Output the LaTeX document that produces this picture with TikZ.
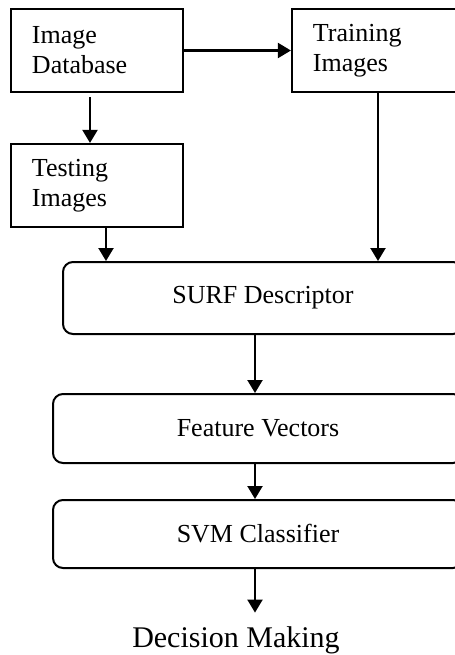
\documentclass[tikz,border=0pt]{standalone}
\usepackage{fontspec}
\setmainfont{Liberation Serif}
\usetikzlibrary{arrows.meta}
\begin{document}
\begin{tikzpicture}[x=0.5pt,y=-0.5pt]
        \tikzstyle{box}=[draw,line width=1.1pt,minimum height=41.5pt,text width=65pt,inner xsep=10.5pt,inner ysep=0pt,align=left,font=\fontsize{13}{15}\selectfont]
        \tikzstyle{stage}=[draw,line width=1pt,rounded corners=5pt,inner sep=0pt,font=\fontsize{13}{15}\selectfont]
        \tikzstyle{arr}=[line width=1.1pt,-{Triangle[length=6.5pt,width=7.5pt]}]

        \useasboundingbox (0,0) rectangle (455,655);
        \clip (0,0) rectangle (455,655);

        \draw (97,50.5) node[box] (db) {Image\\Database};
        \draw (378,50.5) node[box] (train) {Training\\Images};
        \draw (97,185.5) node[box] (test) {Testing\\Images};
        \draw (263,298) node[stage,minimum width=200pt,minimum height=36pt] (surf) {SURF Descriptor};
        \draw (258,428.5) node[stage,minimum width=205pt,minimum height=34.5pt] (feat) {Feature Vectors};
        \draw (258,534) node[stage,minimum width=205pt,minimum height=34pt] (svm) {SVM Classifier};
        \draw (236,647) node[anchor=base,inner sep=0pt,outer sep=6.8pt,font=\fontsize{15}{17}\selectfont] (dec) {Decision Making};

        \draw[arr] (db.east) -- (train.west);
        \draw[arr,shorten <=2pt] ([xshift=-3.5pt]db.south) -- ([xshift=-3.5pt]test.north);
        \draw[arr] ([xshift=4.5pt]test.south) -- ([xshift=4.5pt]test.south |- surf.north);
        \draw[arr] (train.south) -- (train.south |- surf.north);
        \draw[arr] ([xshift=-4pt]surf.south) -- ([xshift=-4pt]surf.south |- feat.north);
        \draw[arr] ([xshift=-1.5pt]feat.south) -- ([xshift=-1.5pt]feat.south |- svm.north);
        \draw[arr] ([xshift=-1.5pt]svm.south) -- ([xshift=-1.5pt]svm.south |- dec.north);

    \end{tikzpicture}
\end{document}
